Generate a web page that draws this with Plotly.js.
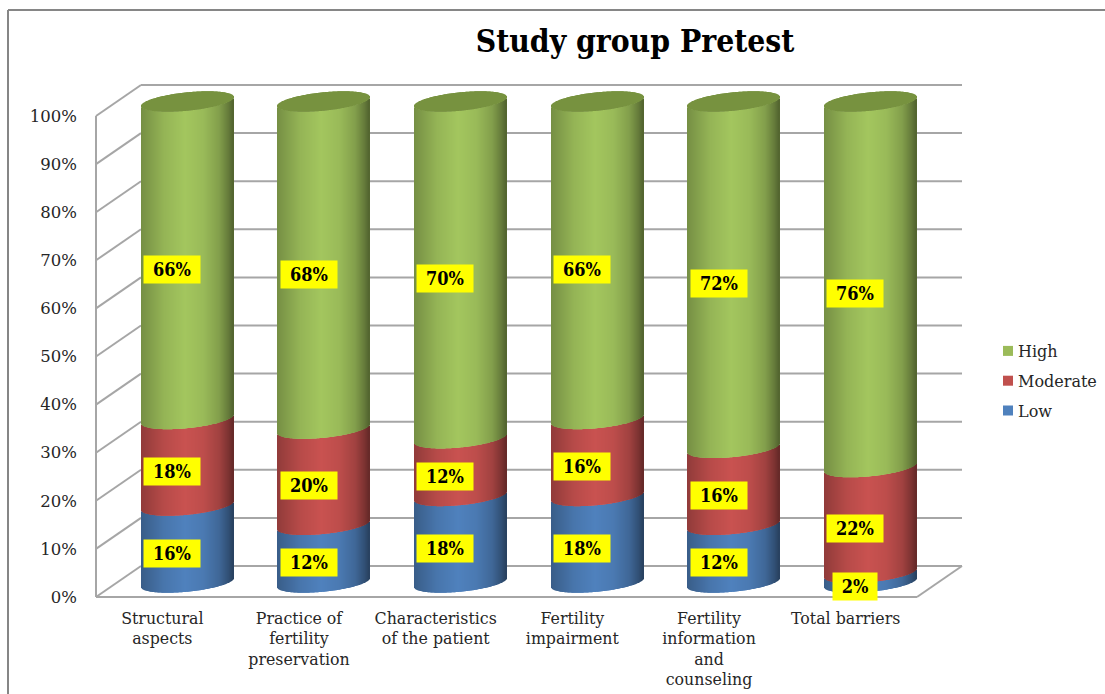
<!DOCTYPE html>
<html>
<head>
<meta charset="utf-8">
<script src="https://cdn.plot.ly/plotly-3.0.1.min.js"></script>
<style>html,body{margin:0;padding:0;background:#fff}</style>
</head>
<body>
<div id="chart" style="width:1105px;height:694px"></div>
<script>
// Barrier levels per domain, percent of the study group at pretest
const categories = ["Structural<br>aspects", "Practice of<br>fertility<br>preservation", "Characteristics<br>of the patient", "Fertility<br>impairment", "Fertility<br>information<br>and<br>counseling", "Total barriers"];
const low = [16, 12, 18, 18, 12, 2];
const moderate = [18, 20, 12, 16, 16, 22];
const high = [66, 68, 70, 66, 72, 76];
const yTicks = [0, 10, 20, 30, 40, 50, 60, 70, 80, 90, 100];

// Pixel geometry of the oblique view; the plot box has a small pad so edge lines are not clipped
const frontL = 96, frontB = 597, pad = 4;
const plotL = frontL - pad, plotR = 964, plotT = 80, plotB = frontB + pad;
const unitX = 820 / 6;            // px per category on the front plane
const unitY = 4.81;               // px per percent
const depthX = 45 / unitX, depthY = 31 / unitY;
const xLeft = -0.5, xRight = xLeft + 866 / unitX;
const xMin = xLeft - pad / unitX, xMax = xLeft + (plotR - frontL) / unitX;
const yMin = -pad / unitY, yMax = (frontB - plotT) / unitY;

// Cylinder shape
const cylCentre = 22.7 / unitX, cylWidth = 92 / unitX;
const cylLift = 14.5 / unitY, capTilt = 4.5 / unitY, capHalf = 9.2 / unitY;
const strips = 92;

// Shading across the cylinder face, as a brightness factor from left to right
const shadeStops = [[0, .72], [.08, .78], [.25, .91], [.48, 1], [.68, .94], [.85, .80], [.95, .62], [1, .50]];
function shade(t) {
  for (let k = 1; k < shadeStops.length; k++) {
    if (t <= shadeStops[k][0]) {
      const [a, fa] = shadeStops[k - 1], [b, fb] = shadeStops[k];
      return fa + (fb - fa) * (t - a) / (b - a);
    }
  }
  return 1;
}
function tint(rgb, f) {
  return `rgb(${rgb.map(c => Math.round(c * f)).join(",")})`;
}

// One bar trace per series, each cylinder sliced into narrow vertical strips
function stripTrace(name, values, starts, rgb) {
  const t = {type: "bar", name, showlegend: false, hoverinfo: "skip", x: [], y: [], base: [], offset: [], width: [], marker: {color: [], line: {width: 0}}};
  values.forEach((v, i) => {
    for (let j = 0; j < strips; j++) {
      const f = (j + .5) / strips, u = 2 * f - 1;
      const front = cylLift + capTilt * u - capHalf * Math.sqrt(1 - u * u);
      t.x.push(i);
      t.y.push(v);
      t.base.push(starts[i] + front);
      t.offset.push(cylCentre + (j / strips - .5) * cylWidth);
      t.width.push(cylWidth / strips * 1.15);
      t.marker.color.push(tint(rgb, shade(f)));
    }
  });
  return t;
}

// Stack positions for each band
const lowStart = low.map(() => 0);
const modStart = low.slice();
const highStart = low.map((v, i) => v + moderate[i]);
const tops = low.map((v, i) => v + moderate[i] + high[i]);

// Top face of each cylinder
function capTrace() {
  const t = {type: "bar", name: "cap", showlegend: false, hoverinfo: "skip", x: [], y: [], base: [], offset: [], width: [], marker: {color: "#77923f", line: {width: 0}}};
  tops.forEach((top, i) => {
    for (let j = 0; j < strips; j++) {
      const u = 2 * (j + .5) / strips - 1, half = capHalf * Math.sqrt(1 - u * u);
      t.x.push(i);
      t.y.push(2 * half);
      t.base.push(top + cylLift + capTilt * u - half);
      t.offset.push(cylCentre + (j / strips - .5) * cylWidth);
      t.width.push(cylWidth / strips * 1.15);
    }
  });
  return t;
}

// Legend entries only
const legendKey = (name, color) => ({type: "scatter", mode: "markers", name, legendgroup: name, x: [null], y: [null], hoverinfo: "skip", marker: {symbol: "square", size: 10, color}});

const traces = [
  stripTrace("Low", low, lowStart, [79, 129, 189]),
  stripTrace("Moderate", moderate, modStart, [201, 82, 80]),
  stripTrace("High", high, highStart, [163, 198, 94]),
  capTrace(),
  legendKey("High", "#9bbb59"),
  legendKey("Moderate", "#c0504d"),
  legendKey("Low", "#4f81bd")
];

// Back wall, side wall and floor lines
const wall = "#a6a6a6";
const seg = (x0, y0, x1, y1) => ({type: "line", layer: "below", xref: "x", yref: "y", x0, y0, x1, y1, line: {color: wall, width: 2}});
const shapes = [];
yTicks.forEach(v => {
  shapes.push(seg(xLeft + depthX, v + depthY, xRight, v + depthY));
  shapes.push(seg(xLeft, v, xLeft + depthX, v + depthY));
});
shapes.push(seg(xLeft, 0, xLeft, 100));
shapes.push(seg(xLeft, 0, xRight - depthX, 0));
shapes.push(seg(xRight - depthX, 0, xRight, depthY));
// Outer chart frame
const frame = (x0, y0, x1, y1) => ({type: "line", layer: "below", xref: "paper", yref: "paper", x0, y0, x1, y1, line: {color: "#868686", width: 2}});
const px = x => (x - plotL) / (plotR - plotL), py = y => (plotB - y) / (plotB - plotT);
shapes.push(frame(px(8), py(10), px(8), py(694)));
shapes.push(frame(px(8), py(10), px(1105), py(10)));

// Yellow value labels
const annotations = [];
function addLabels(values, starts) {
  values.forEach((v, i) => {
    annotations.push({
      x: i + 7.5 / unitX, y: starts[i] + v / 2 + cylLift, xref: "x", yref: "y", yshift: -9,
      text: `<b>${v}%</b>`, showarrow: false, bgcolor: "#ffff00", width: v < 10 ? 42 : 54, height: 25,
      font: {family: "DejaVu Serif Condensed", size: 18, color: "#000"}
    });
  });
}
addLabels(low, lowStart);
addLabels(moderate, modStart);
addLabels(high, highStart);

const layout = {
  width: 1105, height: 694,
  margin: {l: plotL, r: 1105 - plotR, t: plotT, b: 694 - plotB, pad: 0, autoexpand: false},
  paper_bgcolor: "#fff", plot_bgcolor: "rgba(0,0,0,0)",
  barmode: "overlay", showlegend: true,
  title: {text: "<b>Study group Pretest</b>", x: 635 / 1105, xanchor: "center", y: 1 - 41 / 694, yanchor: "middle", font: {family: "DejaVu Serif Condensed", size: 31.5, color: "#000"}},
  xaxis: {type: "linear", range: [xMin, xMax], tickmode: "array", tickvals: categories.map((c, i) => i - 2 / unitX), ticktext: categories, showgrid: false, zeroline: false, showline: false, ticks: "", ticklabelstandoff: 6, tickangle: 0, tickfont: {family: "DejaVu Serif", size: 15.8, color: "#262626"}},
  yaxis: {range: [yMin, yMax], tickmode: "array", tickvals: yTicks, ticktext: yTicks.map(v => v + "%"), showgrid: false, zeroline: false, showline: false, ticks: "", ticklabelstandoff: 14, tickfont: {family: "DejaVu Serif", size: 16.5, color: "#262626"}},
  legend: {x: px(978), xanchor: "left", y: py(334), yanchor: "top", traceorder: "grouped", tracegroupgap: 6, itemwidth: 30, bgcolor: "rgba(0,0,0,0)", font: {family: "DejaVu Serif", size: 16, color: "#262626"}},
  shapes, annotations
};

Plotly.newPlot("chart", traces, layout, {displayModeBar: false, responsive: false}).then(() => {
  // Keep each legend key close to its text
  document.querySelectorAll("#chart .legendsymbols").forEach(g => g.setAttribute("transform", "translate(10,0)"));
});
</script>
</body>
</html>
